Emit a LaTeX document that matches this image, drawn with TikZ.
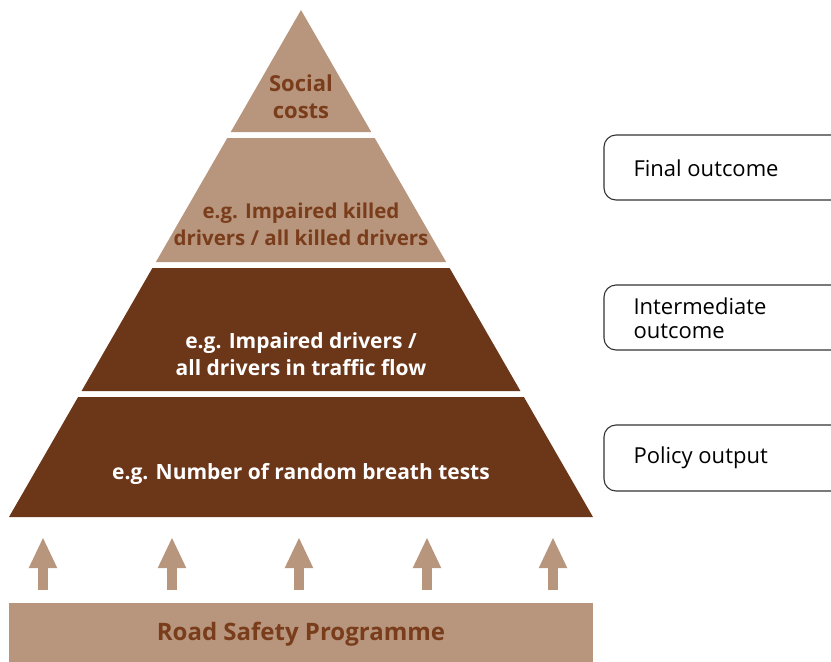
\documentclass[tikz,border=0pt]{standalone}
\usepackage{fontspec}
\setmainfont{Open Sans}
\usetikzlibrary{arrows.meta,calc}
\definecolor{lightbrown}{HTML}{B8967E}
\definecolor{darkbrown}{HTML}{6C3619}
\definecolor{textbrown}{HTML}{7A3D1C}
\definecolor{boxline}{HTML}{333333}
\begin{document}
\begin{tikzpicture}[x=1pt,y=-1pt,
  lighttxt/.style={font=\bfseries\fontsize{20.5}{27}\selectfont, text=textbrown, align=center},
  darktxt/.style={font=\bfseries\fontsize{21}{27}\selectfont, text=white, align=center},
  sidebox/.style={draw=boxline, line width=1.1pt, rounded corners=12pt},
  sidetxt/.style={font=\fontsize{22}{24}\selectfont, text=black, align=left, anchor=west},
  uparrow/.style={draw=lightbrown, line width=10pt, -{Triangle[width=26pt,length=31pt]}}
]
\useasboundingbox (0,0) rectangle (831,662);
\clip (0,0) rectangle (831,662);
% pyramid geometry
\coordinate (A) at (301,10);
\coordinate (L) at (9,517);
\coordinate (R) at (593,517);
% bands (t = (y-10)/507)
\fill[lightbrown] (A) -- ($(A)!0.24063!(R)$) -- ($(A)!0.24063!(L)$) -- cycle;
\fill[lightbrown] ($(A)!0.25247!(L)$) -- ($(A)!0.25247!(R)$) -- ($(A)!0.49704!(R)$) -- ($(A)!0.49704!(L)$) -- cycle;
\fill[darkbrown] ($(A)!0.50888!(L)$) -- ($(A)!0.50888!(R)$) -- ($(A)!0.75148!(R)$) -- ($(A)!0.75148!(L)$) -- cycle;
\fill[darkbrown] ($(A)!0.76331!(L)$) -- ($(A)!0.76331!(R)$) -- (R) -- (L) -- cycle;
% texts
\node[lighttxt, font=\bfseries\fontsize{22}{27}\selectfont] (t1) at (301,97) {Social\\costs};
\node[lighttxt] (t2) at (301,224) {e.g. Impaired killed\\drivers / all killed drivers};
\node[darktxt] (t3) at (301,354) {e.g. Impaired drivers /\\all drivers in traffic flow};
\node[darktxt] (t4) at (301,474) {e.g. Number of random breath tests};
% base bar
\fill[lightbrown] (9,603) rectangle (593,662);
\node[lighttxt, font=\bfseries\fontsize{24}{28}\selectfont] (base) at (301,634) {Road Safety Programme};
% arrows
\foreach \x [count=\i] in {43,172,299,427,553} {
  \coordinate (s\i) at (\x,590);
  \coordinate (e\i) at (\x,537);
  \draw[uparrow] (s\i) -- (e\i);
}
% side boxes
\draw[sidebox] (604,135) rectangle (860,200);
\node[sidetxt] (b1) at (630,168) {Final outcome};
\draw[sidebox] (604,285) rectangle (860,350);
\node[sidetxt] (b2) at (630,318) {Intermediate\\outcome};
\draw[sidebox] (604,425) rectangle (860,491);
\node[sidetxt] (b3) at (630,458) {Policy output};
\end{tikzpicture}
\end{document}
